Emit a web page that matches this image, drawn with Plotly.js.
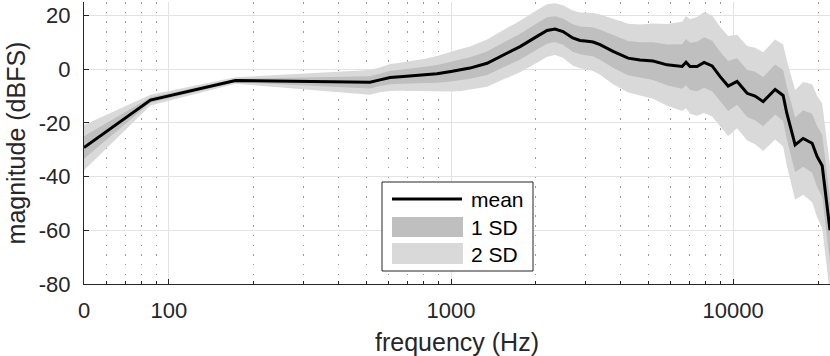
<!DOCTYPE html>
<html>
<head>
<meta charset="utf-8">
<script src="https://cdn.plot.ly/plotly-3.0.1.min.js"></script>
<style>
  html, body { margin: 0; padding: 0; background: #fff; }
  #chart { width: 830px; height: 356px; }
</style>
</head>
<body>
<div id="chart"></div>
<script>
// spectrum data
const freqHz = [
  50, 86, 172, 516, 560, 608, 660, 733, 810, 892, 1000, 1080, 1167, 1342,
  1528, 1757, 2018, 2189, 2336, 2494, 2700, 2866, 3050, 3189, 3375, 3753,
  4244, 4677, 5202, 5834, 6595, 6810, 7035, 7450, 7890, 8425, 8995, 9603,
  10330, 11210, 11970, 12780, 14090, 15040, 15500, 16590, 17710, 19060,
  19860, 20690, 22050,
];
const meanDb = [
  -29.2, -11.5, -4.25, -4.9, -4.0, -3.1, -2.8, -2.5, -2.1, -1.75, -0.9, -0.3,
  0.4, 2.2, 5.3, 8.4, 12.2, 14.4, 14.9, 14.0, 11.6, 10.7, 10.4, 10.1, 9.1,
  6.6, 4.1, 3.4, 3.0, 1.6, 1.0, 2.6, 1.0, 1.0, 2.5, 1.2, -2.8, -6.3, -4.6,
  -9.0, -10.0, -12.1, -7.6, -9.8, -16.4, -28.2, -25.8, -27.6, -32.6, -36.0,
  -60.0,
];
const sdDb = [
  4.2, 1.0, 0.6, 2.3, 2.3, 2.5, 2.6, 2.8, 3.0, 3.3, 3.7, 3.9, 4.0, 4.4, 4.6,
  4.8, 4.9, 4.9, 4.8, 4.9, 5.1, 5.2, 5.3, 5.4, 5.6, 6.1, 6.4, 6.6, 7.0, 7.6,
  8.3, 8.6, 8.8, 9.2, 9.4, 9.4, 9.3, 9.3, 8.7, 8.8, 9.0, 9.2, 9.3, 9.5, 9.8,
  10.2, 10.5, 11.0, 11.3, 11.6, 12.0,
];
const xTickVals = [50, 100, 1000, 10000];
const xTickText = ["0", "100", "1000", "10000"];
const xMinorVals = [
  60, 70, 80, 90, 200, 300, 400, 500, 600, 700, 800, 900, 2000, 3000, 4000,
  5000, 6000, 7000, 8000, 9000, 20000,
];
const yTickVals = [-80, -60, -40, -20, 0, 20];
const yTickText = ["-80", "-60", "-40", "-20", "0", "20"];
const legendLabels = ["mean", "1 SD", "2 SD"];

const ink = "#262626";
const font = "Liberation Sans, Arial, sans-serif";
const dark = "#bfbfbf";
const light = "#d9d9d9";

const band = (k, sign) => meanDb.map((m, i) => m + sign * k * sdDb[i]);

const traces = [
  { x: freqHz, y: band(2, 1), mode: "lines", line: { width: 0 }, hoverinfo: "skip" },
  { x: freqHz, y: band(2, -1), mode: "lines", line: { width: 0 },
    fill: "tonexty", fillcolor: light, hoverinfo: "skip" },
  { x: freqHz, y: band(1, 1), mode: "lines", line: { width: 0 }, hoverinfo: "skip" },
  { x: freqHz, y: band(1, -1), mode: "lines", line: { width: 0 },
    fill: "tonexty", fillcolor: dark, hoverinfo: "skip" },
  { x: freqHz, y: meanDb, mode: "lines", line: { color: "#000", width: 3 } },
];

// plot area in pixels, used to place the hand-drawn legend
const L = 84, T = 2, W = 746, H = 282;
const px = (x) => (x - L) / W;
const py = (y) => 1 - (y - T) / H;

const shapes = [
  { type: "rect", xref: "paper", yref: "paper", x0: px(382), x1: px(533),
    y0: py(182), y1: py(271), fillcolor: "#fff", line: { color: ink, width: 1 } },
  { type: "line", xref: "paper", yref: "paper", x0: px(392), x1: px(462),
    y0: py(199), y1: py(199), line: { color: "#000", width: 3 } },
  { type: "rect", xref: "paper", yref: "paper", x0: px(392), x1: px(463),
    y0: py(217), y1: py(237), fillcolor: dark, line: { width: 0 } },
  { type: "rect", xref: "paper", yref: "paper", x0: px(392), x1: px(463),
    y0: py(243), y1: py(264), fillcolor: light, line: { width: 0 } },
];
const annotations = legendLabels.map((t, i) => ({
  text: t, xref: "paper", yref: "paper", x: px(469), y: py([199, 227, 254][i]),
  xanchor: "left", yanchor: "middle", showarrow: false,
  font: { family: font, size: 21, color: "#000" },
}));

const layout = {
  width: 830,
  height: 356,
  margin: { l: L, r: 0, t: T, b: 356 - T - H },
  paper_bgcolor: "#fff",
  plot_bgcolor: "#fff",
  showlegend: false,
  font: { family: font, color: ink },
  xaxis: {
    type: "log",
    range: [Math.log10(50), Math.log10(22050)],
    tickmode: "array",
    tickvals: xTickVals,
    ticktext: xTickText,
    ticks: "inside",
    ticklen: 5,
    tickcolor: ink,
    tickfont: { size: 22, color: ink },
    ticklabelstandoff: 7,
    showline: true,
    linecolor: ink,
    linewidth: 1,
    showgrid: true,
    gridcolor: "#e3e3e3",
    zeroline: false,
    minor: {
      tickvals: xMinorVals,
      ticks: "inside",
      ticklen: 3,
      tickcolor: ink,
      showgrid: true,
      gridcolor: "#9a9a9a",
      griddash: "1.5px,8.2px",
    },
    title: { text: "frequency (Hz)", font: { size: 25, color: ink }, standoff: 11 },
  },
  yaxis: {
    range: [-80, 25],
    tickmode: "array",
    tickvals: yTickVals,
    ticktext: yTickText,
    ticks: "inside",
    ticklen: 5,
    tickcolor: ink,
    tickfont: { size: 22, color: ink },
    ticklabelstandoff: 8,
    showline: true,
    linecolor: ink,
    linewidth: 1,
    showgrid: true,
    gridcolor: "#e3e3e3",
    zeroline: false,
    title: { text: "magnitude (dBFS)", font: { size: 25, color: ink }, standoff: 6 },
  },
  shapes: shapes,
  annotations: annotations,
};

Plotly.newPlot("chart", traces, layout, { displayModeBar: false, staticPlot: true });
</script>
</body>
</html>
